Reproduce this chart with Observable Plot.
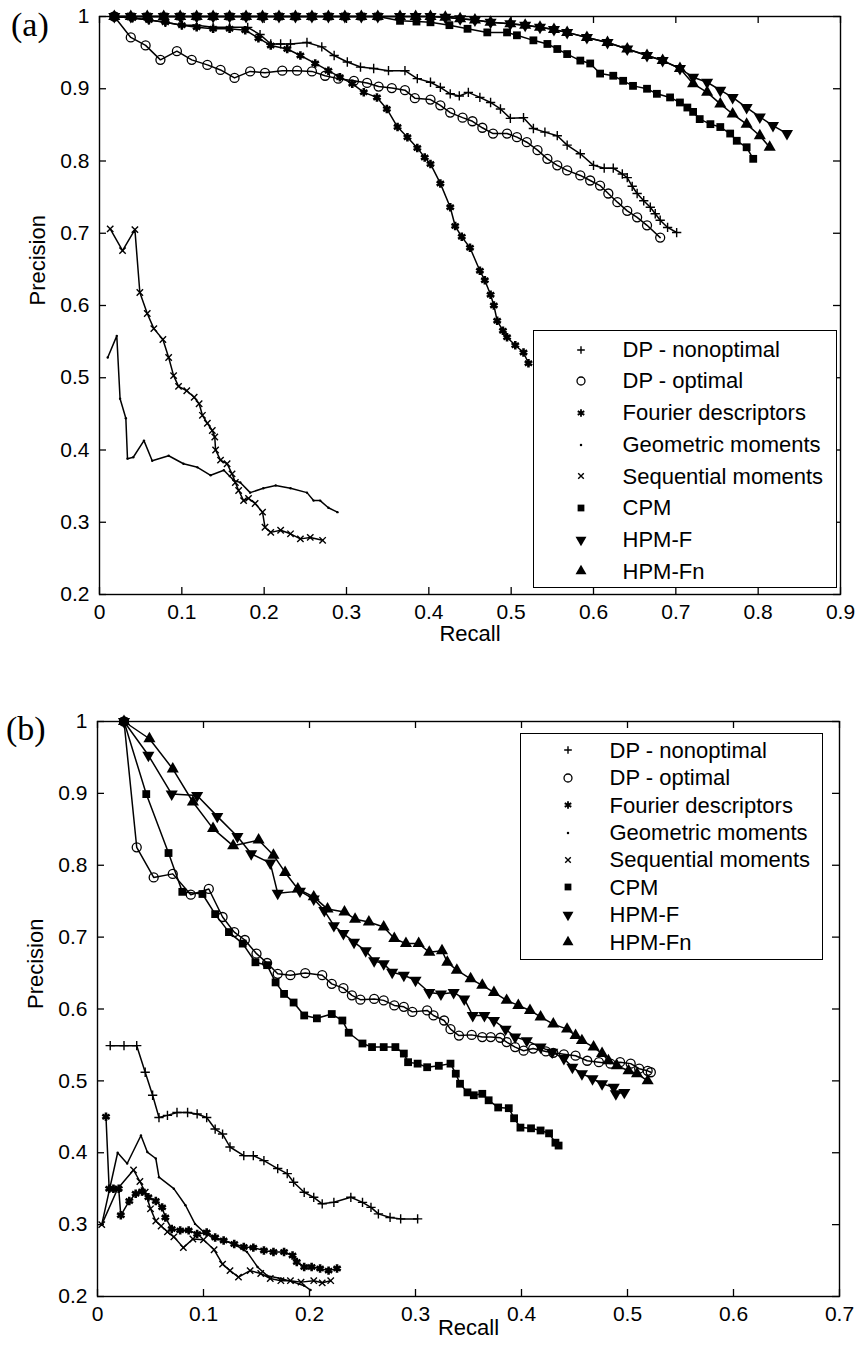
<!DOCTYPE html>
<html><head><meta charset="utf-8">
<script src="https://cdn.jsdelivr.net/npm/d3@7"></script>
<script src="https://cdn.jsdelivr.net/npm/@observablehq/plot@0.6"></script>
<style>
body{margin:0;background:#fff;}
#root{position:relative;width:860px;height:1358px;overflow:hidden;background:#fff;font-family:"Liberation Sans",Arial,sans-serif;}
.panel{position:absolute;left:0;}
.panel svg{display:block;}
.tag{position:absolute;font-family:"Liberation Serif","Times New Roman",serif;font-size:34px;line-height:34px;color:#000;}
.legend{position:absolute;box-sizing:border-box;border:1.5px solid #000;background:#fff;}
.lrow{position:absolute;left:0;right:0;}
.lrow svg{position:absolute;}
.lrow span{position:absolute;font-size:22px;color:#000;white-space:nowrap;}
</style></head>
<body><div id="root"></div>
<script>
// ---------- labels ----------
const seriesNames = ["DP - nonoptimal","DP - optimal","Fourier descriptors","Geometric moments","Sequential moments","CPM","HPM-F","HPM-Fn"];
const yTicks = [0.2,0.3,0.4,0.5,0.6,0.7,0.8,0.9,1];
const aXTicks = [0,0.1,0.2,0.3,0.4,0.5,0.6,0.7,0.8,0.9];
const bXTicks = [0,0.1,0.2,0.3,0.4,0.5,0.6,0.7];

// ---------- panel (a) data: [recall, precision] ----------
const a_dpNonoptimal = [[0.018,1],[0.04,0.998],[0.06,0.995],[0.08,0.992],[0.1,0.988],[0.118,0.988],[0.138,0.985],[0.158,0.985],[0.18,0.985],[0.195,0.975],[0.208,0.962],[0.22,0.962],[0.232,0.962],[0.252,0.964],[0.27,0.958],[0.285,0.946],[0.301,0.937],[0.317,0.93],[0.333,0.928],[0.351,0.925],[0.371,0.925],[0.386,0.914],[0.402,0.909],[0.414,0.902],[0.426,0.893],[0.437,0.89],[0.448,0.895],[0.462,0.888],[0.475,0.881],[0.487,0.872],[0.499,0.859],[0.515,0.86],[0.527,0.845],[0.541,0.84],[0.556,0.835],[0.568,0.822],[0.584,0.81],[0.6,0.794],[0.613,0.79],[0.624,0.79],[0.635,0.782],[0.641,0.777],[0.647,0.765],[0.653,0.755],[0.661,0.745],[0.669,0.736],[0.675,0.727],[0.681,0.718],[0.69,0.708],[0.701,0.701]];
const a_dpOptimal = [[0.018,1],[0.038,0.971],[0.056,0.96],[0.074,0.94],[0.094,0.952],[0.112,0.94],[0.131,0.933],[0.147,0.926],[0.164,0.915],[0.183,0.924],[0.201,0.922],[0.222,0.925],[0.24,0.925],[0.258,0.924],[0.274,0.918],[0.29,0.914],[0.309,0.911],[0.325,0.908],[0.339,0.903],[0.355,0.901],[0.371,0.898],[0.383,0.887],[0.402,0.885],[0.414,0.877],[0.426,0.867],[0.441,0.86],[0.453,0.855],[0.465,0.846],[0.478,0.838],[0.495,0.838],[0.507,0.833],[0.519,0.826],[0.532,0.815],[0.544,0.803],[0.556,0.794],[0.568,0.787],[0.584,0.78],[0.596,0.773],[0.608,0.766],[0.618,0.755],[0.629,0.743],[0.641,0.731],[0.653,0.722],[0.665,0.711],[0.681,0.694]];
const a_fourier = [[0.018,1],[0.04,0.998],[0.06,0.995],[0.08,0.992],[0.1,0.988],[0.118,0.985],[0.138,0.983],[0.158,0.983],[0.177,0.981],[0.193,0.97],[0.208,0.96],[0.228,0.955],[0.244,0.946],[0.262,0.935],[0.278,0.925],[0.292,0.916],[0.307,0.907],[0.321,0.895],[0.337,0.888],[0.349,0.872],[0.362,0.847],[0.374,0.833],[0.386,0.818],[0.395,0.805],[0.402,0.796],[0.414,0.769],[0.426,0.736],[0.432,0.71],[0.44,0.695],[0.45,0.68],[0.462,0.648],[0.468,0.635],[0.475,0.615],[0.479,0.6],[0.483,0.579],[0.49,0.565],[0.495,0.556],[0.505,0.545],[0.515,0.535],[0.521,0.52]];
const a_geometric = [[0.01,0.528],[0.021,0.558],[0.025,0.471],[0.032,0.444],[0.034,0.388],[0.041,0.39],[0.054,0.413],[0.064,0.385],[0.084,0.392],[0.102,0.381],[0.119,0.376],[0.135,0.365],[0.151,0.372],[0.163,0.358],[0.171,0.355],[0.183,0.341],[0.199,0.347],[0.214,0.351],[0.232,0.347],[0.252,0.341],[0.26,0.33],[0.268,0.33],[0.278,0.32],[0.289,0.314]];
const a_sequential = [[0.013,0.706],[0.028,0.676],[0.043,0.705],[0.049,0.618],[0.058,0.589],[0.066,0.568],[0.077,0.553],[0.084,0.528],[0.09,0.503],[0.096,0.488],[0.106,0.482],[0.115,0.473],[0.121,0.464],[0.125,0.448],[0.131,0.437],[0.137,0.427],[0.14,0.418],[0.141,0.4],[0.147,0.386],[0.155,0.381],[0.161,0.367],[0.165,0.355],[0.169,0.344],[0.175,0.33],[0.181,0.333],[0.189,0.326],[0.198,0.314],[0.201,0.293],[0.208,0.286],[0.22,0.289],[0.232,0.284],[0.244,0.277],[0.256,0.279],[0.271,0.275]];
const a_cpm = [[0.018,1],[0.038,1],[0.058,1],[0.078,1],[0.098,1],[0.118,1],[0.138,1],[0.158,1],[0.178,1],[0.198,1],[0.218,1],[0.238,1],[0.258,1],[0.278,1],[0.298,1],[0.318,1],[0.338,1],[0.365,0.994],[0.385,0.993],[0.402,0.992],[0.425,0.988],[0.447,0.983],[0.471,0.978],[0.495,0.978],[0.507,0.974],[0.527,0.967],[0.544,0.962],[0.556,0.955],[0.568,0.948],[0.584,0.939],[0.596,0.935],[0.608,0.921],[0.624,0.918],[0.636,0.911],[0.648,0.904],[0.665,0.9],[0.677,0.893],[0.693,0.888],[0.705,0.881],[0.714,0.874],[0.721,0.868],[0.729,0.858],[0.742,0.851],[0.754,0.847],[0.766,0.838],[0.774,0.828],[0.786,0.819],[0.794,0.803]];
const a_hpmF = [[0.018,1],[0.038,1],[0.058,1],[0.078,1],[0.098,1],[0.118,1],[0.138,1],[0.158,1],[0.178,1],[0.198,1],[0.218,1],[0.238,1],[0.258,1],[0.278,1],[0.298,1],[0.318,1],[0.338,1],[0.365,1],[0.384,1],[0.402,1],[0.42,0.999],[0.438,0.997],[0.456,0.995],[0.475,0.992],[0.499,0.99],[0.517,0.988],[0.535,0.985],[0.552,0.982],[0.568,0.978],[0.592,0.971],[0.617,0.964],[0.641,0.955],[0.665,0.946],[0.684,0.939],[0.705,0.928],[0.721,0.916],[0.738,0.909],[0.754,0.898],[0.769,0.888],[0.786,0.874],[0.802,0.861],[0.818,0.849],[0.835,0.838]];
const a_hpmFn = [[0.018,1],[0.038,1],[0.058,1],[0.078,1],[0.098,1],[0.118,1],[0.138,1],[0.158,1],[0.178,1],[0.198,1],[0.218,1],[0.238,1],[0.258,1],[0.278,1],[0.298,1],[0.318,1],[0.338,1],[0.365,1],[0.384,1],[0.402,1],[0.42,0.999],[0.438,0.997],[0.456,0.995],[0.475,0.992],[0.499,0.99],[0.517,0.988],[0.535,0.985],[0.552,0.982],[0.568,0.978],[0.592,0.971],[0.617,0.964],[0.641,0.955],[0.665,0.946],[0.684,0.939],[0.705,0.928],[0.721,0.907],[0.738,0.895],[0.754,0.879],[0.769,0.865],[0.786,0.851],[0.802,0.835],[0.814,0.819]];

// ---------- panel (b) data: [recall, precision] ----------
const b_dpNonoptimal = [[0.012,0.549],[0.025,0.549],[0.037,0.549],[0.045,0.512],[0.052,0.48],[0.058,0.449],[0.066,0.452],[0.075,0.456],[0.085,0.456],[0.094,0.454],[0.103,0.449],[0.111,0.433],[0.118,0.426],[0.125,0.408],[0.138,0.396],[0.147,0.396],[0.157,0.389],[0.17,0.378],[0.179,0.371],[0.185,0.359],[0.195,0.345],[0.204,0.338],[0.212,0.329],[0.223,0.331],[0.239,0.338],[0.25,0.331],[0.258,0.324],[0.265,0.315],[0.276,0.31],[0.286,0.308],[0.302,0.308]];
const b_dpOptimal = [[0.025,1],[0.037,0.825],[0.053,0.783],[0.071,0.788],[0.088,0.759],[0.105,0.767],[0.118,0.728],[0.129,0.707],[0.139,0.696],[0.15,0.677],[0.16,0.664],[0.17,0.649],[0.182,0.647],[0.196,0.65],[0.212,0.647],[0.221,0.635],[0.232,0.629],[0.24,0.619],[0.248,0.613],[0.261,0.614],[0.27,0.612],[0.28,0.605],[0.289,0.603],[0.297,0.596],[0.311,0.598],[0.317,0.591],[0.327,0.584],[0.333,0.572],[0.341,0.563],[0.353,0.564],[0.363,0.561],[0.371,0.561],[0.38,0.56],[0.386,0.554],[0.394,0.547],[0.402,0.542],[0.411,0.545],[0.423,0.541],[0.43,0.539],[0.44,0.537],[0.451,0.535],[0.462,0.528],[0.473,0.526],[0.484,0.524],[0.493,0.526],[0.503,0.524],[0.511,0.517],[0.519,0.514],[0.522,0.512]];
const b_fourier = [[0.008,0.45],[0.011,0.35],[0.015,0.35],[0.02,0.35],[0.022,0.313],[0.03,0.333],[0.036,0.343],[0.042,0.346],[0.048,0.338],[0.055,0.333],[0.061,0.324],[0.064,0.31],[0.07,0.294],[0.078,0.292],[0.086,0.292],[0.094,0.287],[0.103,0.289],[0.111,0.282],[0.119,0.278],[0.129,0.273],[0.138,0.269],[0.147,0.268],[0.157,0.264],[0.166,0.262],[0.176,0.262],[0.184,0.257],[0.188,0.248],[0.195,0.241],[0.202,0.241],[0.21,0.239],[0.218,0.236],[0.226,0.239]];
const b_geometric = [[0.004,0.3],[0.019,0.4],[0.028,0.385],[0.041,0.424],[0.047,0.401],[0.055,0.392],[0.058,0.366],[0.072,0.35],[0.083,0.327],[0.092,0.301],[0.1,0.29],[0.11,0.28],[0.12,0.278],[0.13,0.272],[0.141,0.262],[0.151,0.241],[0.16,0.229],[0.173,0.225],[0.185,0.22],[0.195,0.215],[0.201,0.209]];
const b_sequential = [[0.004,0.3],[0.019,0.35],[0.034,0.376],[0.04,0.36],[0.045,0.345],[0.05,0.322],[0.055,0.305],[0.06,0.298],[0.066,0.29],[0.072,0.283],[0.081,0.268],[0.09,0.28],[0.1,0.279],[0.11,0.265],[0.118,0.245],[0.125,0.236],[0.133,0.227],[0.144,0.236],[0.154,0.232],[0.163,0.225],[0.173,0.222],[0.182,0.222],[0.192,0.22],[0.204,0.222],[0.212,0.219],[0.22,0.222]];
const b_cpm = [[0.025,1],[0.046,0.899],[0.067,0.817],[0.08,0.763],[0.099,0.76],[0.111,0.732],[0.124,0.707],[0.137,0.691],[0.149,0.665],[0.16,0.661],[0.168,0.637],[0.176,0.621],[0.185,0.609],[0.195,0.591],[0.207,0.587],[0.221,0.593],[0.231,0.584],[0.237,0.567],[0.25,0.552],[0.259,0.547],[0.27,0.547],[0.281,0.547],[0.289,0.538],[0.293,0.526],[0.302,0.524],[0.311,0.519],[0.322,0.521],[0.333,0.524],[0.338,0.51],[0.342,0.496],[0.349,0.484],[0.355,0.48],[0.363,0.482],[0.369,0.473],[0.378,0.463],[0.388,0.462],[0.393,0.448],[0.399,0.435],[0.409,0.434],[0.418,0.431],[0.426,0.427],[0.432,0.414],[0.435,0.41]];
const b_hpmF = [[0.025,1],[0.048,0.953],[0.07,0.899],[0.094,0.897],[0.113,0.868],[0.132,0.84],[0.145,0.816],[0.163,0.803],[0.17,0.761],[0.191,0.764],[0.204,0.753],[0.214,0.737],[0.223,0.716],[0.232,0.705],[0.242,0.693],[0.253,0.681],[0.261,0.667],[0.27,0.663],[0.278,0.651],[0.289,0.647],[0.3,0.64],[0.313,0.623],[0.324,0.621],[0.336,0.623],[0.346,0.614],[0.354,0.591],[0.365,0.591],[0.374,0.584],[0.385,0.572],[0.394,0.561],[0.405,0.556],[0.418,0.547],[0.429,0.54],[0.44,0.531],[0.448,0.519],[0.457,0.51],[0.467,0.503],[0.476,0.496],[0.487,0.491],[0.489,0.482],[0.497,0.484]];
const b_hpmFn = [[0.025,1],[0.049,0.976],[0.071,0.934],[0.09,0.888],[0.109,0.851],[0.128,0.827],[0.152,0.835],[0.166,0.814],[0.177,0.79],[0.189,0.767],[0.204,0.756],[0.217,0.739],[0.233,0.735],[0.243,0.725],[0.256,0.721],[0.27,0.714],[0.28,0.698],[0.291,0.691],[0.303,0.691],[0.313,0.679],[0.325,0.681],[0.33,0.665],[0.339,0.654],[0.352,0.642],[0.363,0.633],[0.374,0.623],[0.386,0.612],[0.397,0.605],[0.408,0.598],[0.418,0.589],[0.43,0.579],[0.443,0.572],[0.451,0.563],[0.457,0.556],[0.468,0.547],[0.476,0.538],[0.482,0.528],[0.49,0.521],[0.501,0.514],[0.509,0.51],[0.519,0.5]];

// ---------- marker styles ----------
const sqrt3 = Math.sqrt(3);
const triangleDown = {draw(ctx, size){ const y = -Math.sqrt(size/(sqrt3*3)); ctx.moveTo(0,-y*2); ctx.lineTo(-sqrt3*y, y); ctx.lineTo(sqrt3*y, y); ctx.closePath(); }};
const markers = [
  {plot:"plus", d3:d3.symbolPlus, r:3.1, lsize:21, filled:false, sw:1.4},
  {plot:"circle", d3:d3.symbolCircle, r:4.5, lsize:50, filled:false, sw:1.3},
  {plot:"asterisk", d3:d3.symbolAsterisk, r:4.0, lsize:40, filled:false, sw:2.6},
  {plot:"circle", d3:d3.symbolCircle, r:1.2, lsize:5, filled:true, sw:0},
  {plot:"times", d3:d3.symbolTimes, r:3.0, lsize:22, filled:false, sw:1.4},
  {plot:"square", d3:d3.symbolSquare, r:4.4, lsize:46, filled:true, sw:0},
  {plot:triangleDown, d3:triangleDown, r:4.5, lsize:52, filled:true, sw:0},
  {plot:"triangle", d3:d3.symbolTriangle, r:4.5, lsize:52, filled:true, sw:0}
];

function makePanel(seriesData, xDomain, xTicks, height, m, recallDy) {
  const W = 860;
  const plotW = W - m.left - m.right;
  const plotH = height - m.top - m.bottom;
  const marks = [];
  seriesData.forEach((data, i) => {
    const mk = markers[i];
    marks.push(Plot.line(data, {x: d => d[0], y: d => d[1], stroke: "black", strokeWidth: 1.5, strokeLinejoin: "round"}));
    marks.push(Plot.dot(data, {x: d => d[0], y: d => d[1], symbol: mk.plot, r: mk.r,
      fill: mk.filled ? "black" : "none", stroke: mk.filled ? "none" : "black", strokeWidth: mk.sw}));
  });
  marks.push(Plot.frame({stroke: "black", strokeWidth: 1.4}));
  marks.push(Plot.tickY(yTicks, {y: d => d, insetRight: plotW - 7, stroke: "black", strokeWidth: 1.3}));
  marks.push(Plot.tickY(yTicks, {y: d => d, insetLeft: plotW - 7, stroke: "black", strokeWidth: 1.3}));
  marks.push(Plot.tickX(xTicks, {x: d => d, insetTop: plotH - 7, stroke: "black", strokeWidth: 1.3}));
  marks.push(Plot.tickX(xTicks, {x: d => d, insetBottom: plotH - 7, stroke: "black", strokeWidth: 1.3}));
  marks.push(Plot.axisX({ticks: xTicks, tickSize: 0, tickPadding: 10, tickFormat: d => `${d}`, label: null}));
  marks.push(Plot.axisY({ticks: yTicks, tickSize: 0, tickPadding: 10, tickFormat: d => `${d}`, label: null}));
  marks.push(Plot.text(["Recall"], {text: d => d, frameAnchor: "bottom", dy: recallDy, fontSize: 22}));
  marks.push(Plot.text(["Precision"], {text: d => d, frameAnchor: "left", rotate: -90, dx: -62, fontSize: 22}));
  return Plot.plot({
    width: W, height,
    marginTop: m.top, marginRight: m.right, marginBottom: m.bottom, marginLeft: m.left,
    x: {domain: xDomain}, y: {domain: [0.2, 1]},
    style: {fontFamily: '"Liberation Sans", Arial, sans-serif', fontSize: "21px", color: "black", background: "transparent", overflow: "visible"},
    marks
  });
}

function makeLegend(root, box) {
  const lg = document.createElement("div");
  lg.className = "legend";
  Object.assign(lg.style, {left: box.left + "px", top: box.top + "px", width: box.width + "px", height: box.height + "px"});
  seriesNames.forEach((name, i) => {
    const mk = markers[i];
    const row = document.createElement("div");
    row.className = "lrow";
    Object.assign(row.style, {top: (box.padTop + i * box.rowH - 1.5) + "px", height: box.rowH + "px"});
    const svg = d3.create("svg").attr("width", 20).attr("height", 20)
      .style("left", (48 - 10 - 1.5) + "px").style("top", (box.rowH / 2 - 10) + "px");
    svg.append("path").attr("transform", "translate(10,10)")
      .attr("d", d3.symbol(mk.d3, mk.lsize)())
      .attr("fill", mk.filled ? "black" : "none")
      .attr("stroke", mk.filled ? "none" : "black")
      .attr("stroke-width", mk.sw ? Math.min(mk.sw, 1.8) : 0);
    row.appendChild(svg.node());
    const sp = document.createElement("span");
    sp.textContent = name;
    Object.assign(sp.style, {left: (90 - 1.5) + "px", top: "0px", lineHeight: box.rowH + "px"});
    row.appendChild(sp);
    lg.appendChild(row);
  });
  root.appendChild(lg);
}

const root = document.getElementById("root");
const pa = document.createElement("div"); pa.className = "panel"; pa.style.top = "0px";
pa.appendChild(makePanel([a_dpNonoptimal, a_dpOptimal, a_fourier, a_geometric, a_sequential, a_cpm, a_hpmF, a_hpmFn], [0, 0.9], aXTicks, 660, {top: 16, right: 20, bottom: 66, left: 99}, 46));
root.appendChild(pa);
const pb = document.createElement("div"); pb.className = "panel"; pb.style.top = "660px";
pb.appendChild(makePanel([b_dpNonoptimal, b_dpOptimal, b_fourier, b_geometric, b_sequential, b_cpm, b_hpmF, b_hpmFn], [0, 0.7], bXTicks, 698, {top: 61, right: 21, bottom: 62, left: 97}, 38));
root.appendChild(pb);

makeLegend(root, {left: 533, top: 330, width: 304, height: 258, padTop: 4.2, rowH: 31.7});
makeLegend(root, {left: 520, top: 733, width: 303, height: 227, padTop: 4.3, rowH: 27.4});

const ta = document.createElement("div"); ta.className = "tag"; ta.textContent = "(a)"; ta.style.left = "11px"; ta.style.top = "8px"; root.appendChild(ta);
const tb = document.createElement("div"); tb.className = "tag"; tb.textContent = "(b)"; tb.style.left = "6px"; tb.style.top = "712px"; root.appendChild(tb);
</script></body></html>
